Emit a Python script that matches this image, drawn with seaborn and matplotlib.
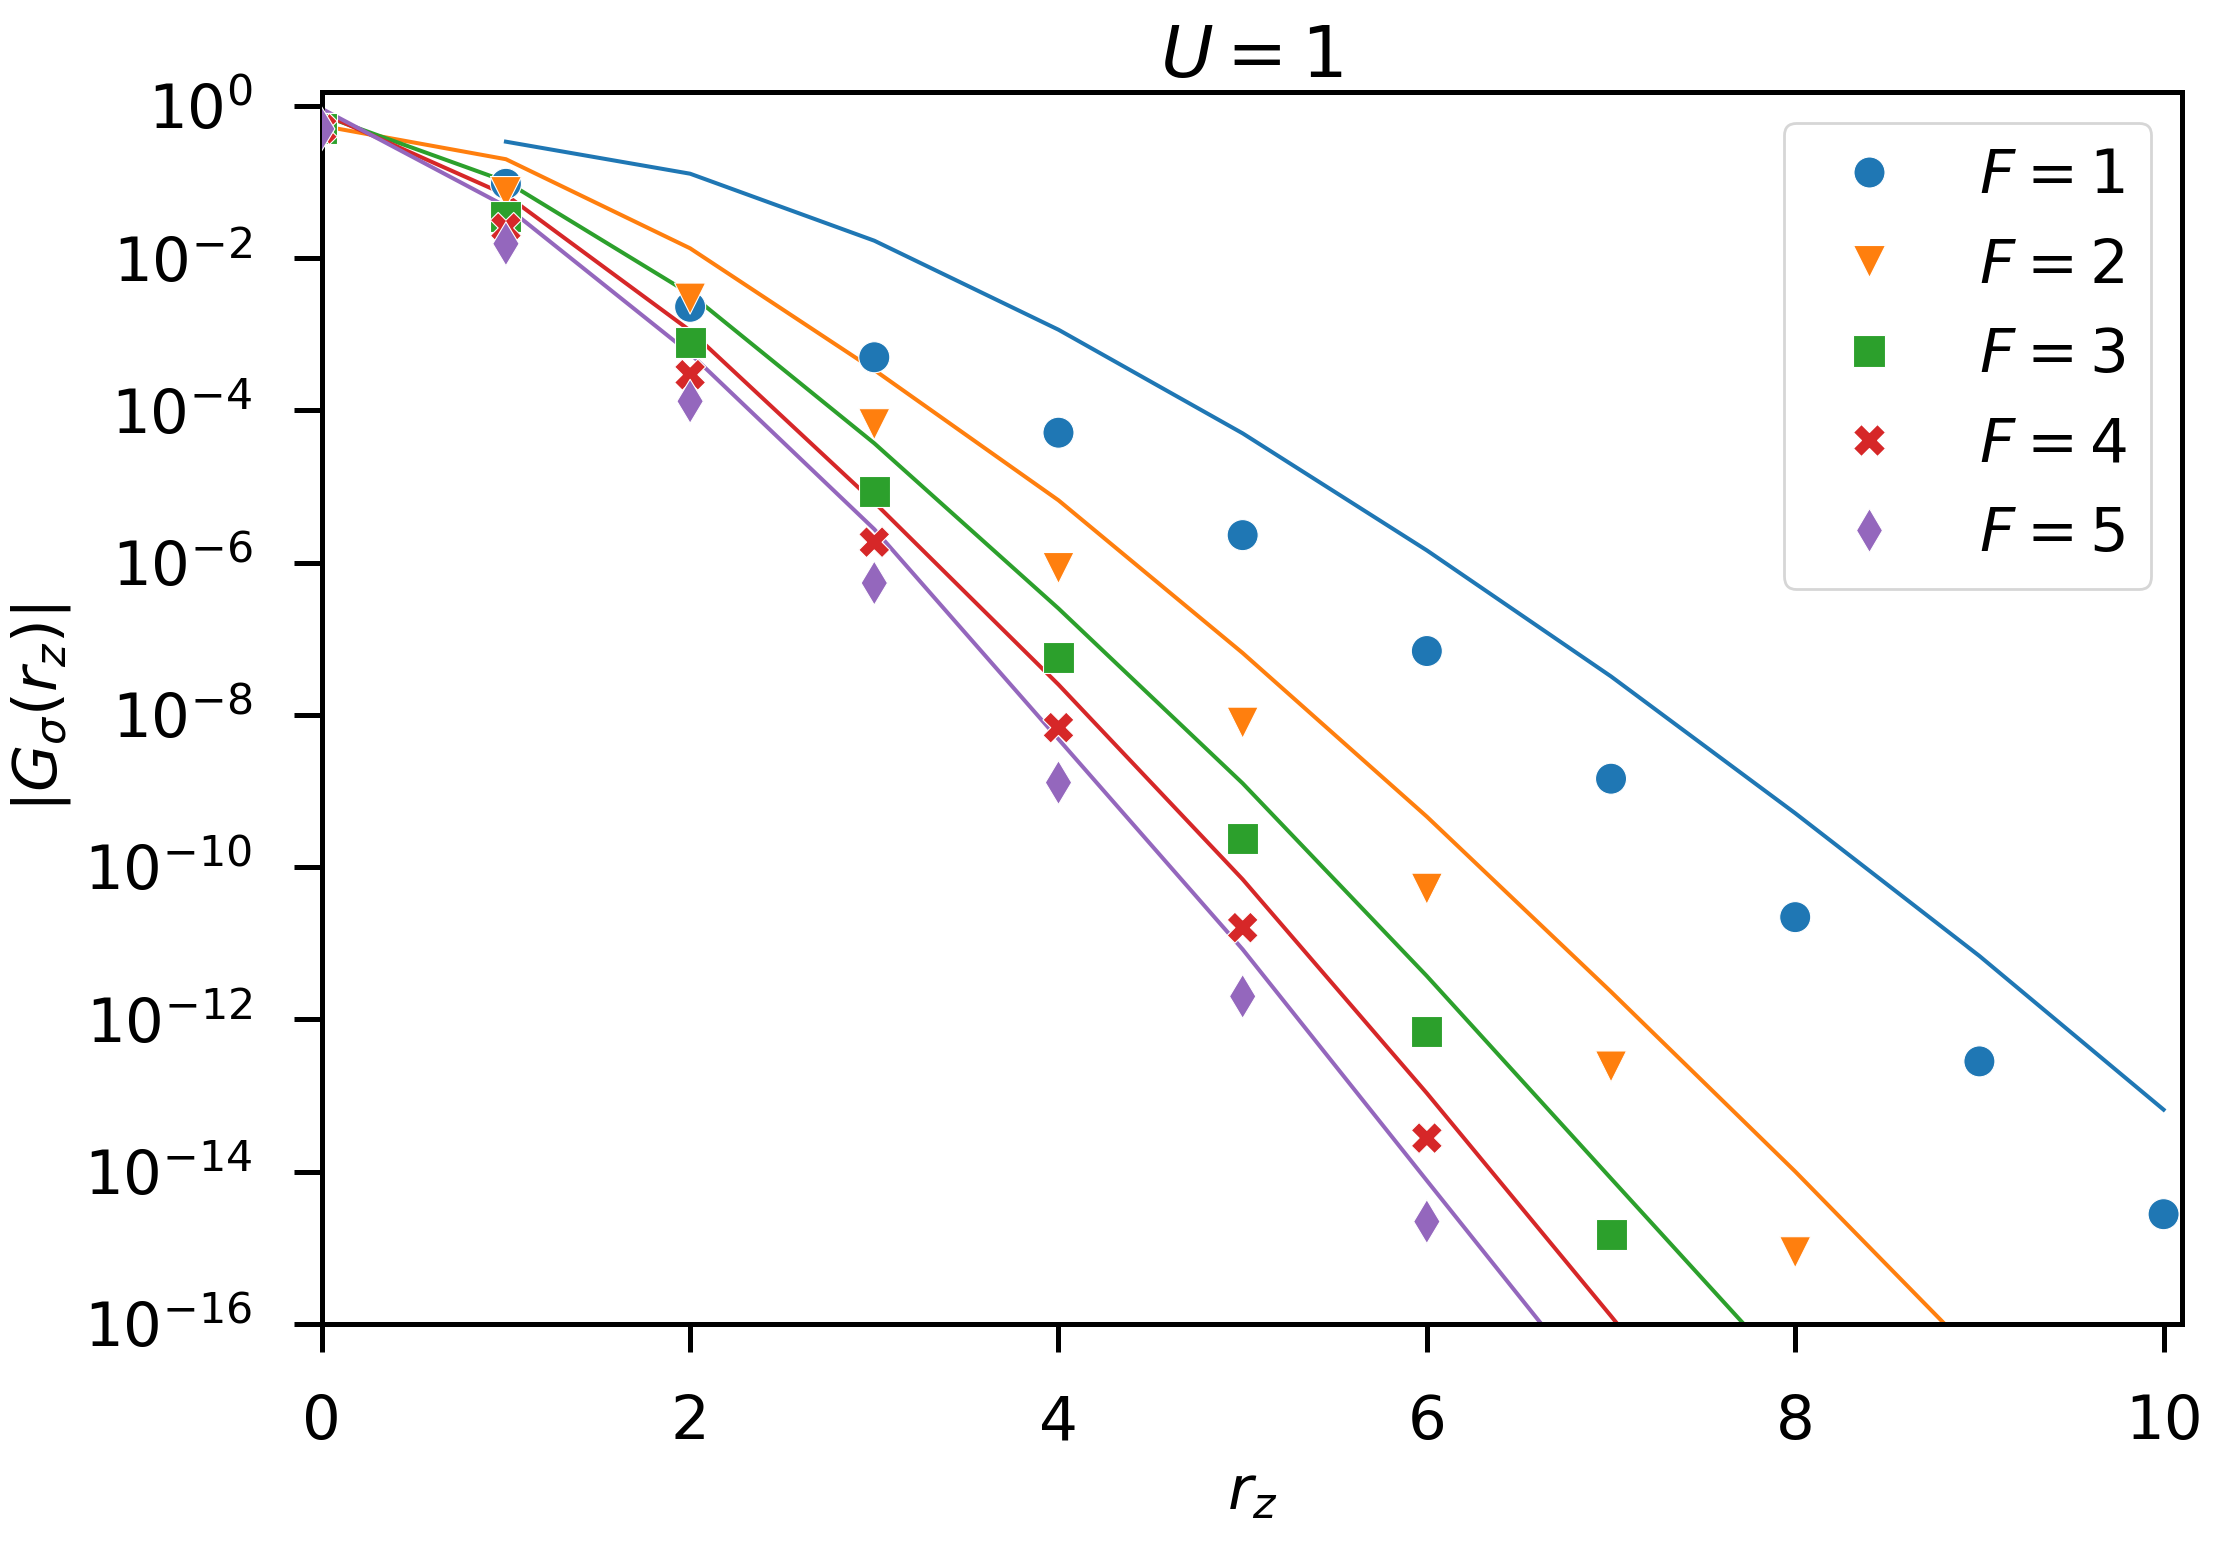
import numpy as np
import pandas as pd
import matplotlib
matplotlib.use("Agg")
import matplotlib.pyplot as plt
import seaborn as sns
from matplotlib.ticker import NullLocator


# data (U = 1)
r_z = [0, 1, 2, 3, 4, 5, 6, 7, 8, 9, 10]
labels = ["$F=1$", "$F=2$", "$F=3$", "$F=4$", "$F=5$"]
colors = ["#1f77b4", "#ff7f0e", "#2ca02c", "#d62728", "#9467bd"]
markers = ["o", "v", "s", "X", "d"]

# markers: |G| per F (nan = below the plotted range)
pts_F1 = [5.0e-1, 9.5e-2, 2.3e-3, 5.0e-4, 5.1e-5, 2.3e-6, 6.9e-8, 1.45e-9, 2.2e-11, 2.8e-13, 2.75e-15]
pts_F2 = [5.0e-1, 7.4e-2, 2.95e-3, 6.6e-5, 8.5e-7, 7.9e-9, 5.2e-11, 2.4e-13, 8.7e-16, np.nan, np.nan]
pts_F3 = [5.0e-1, 3.55e-2, 7.9e-4, 8.7e-6, 5.6e-8, 2.4e-10, 6.9e-13, 1.5e-15, np.nan, np.nan, np.nan]
pts_F4 = [5.0e-1, 2.5e-2, 2.95e-4, 1.86e-6, 6.8e-9, 1.6e-11, 2.75e-14, np.nan, np.nan, np.nan, np.nan]
pts_F5 = [5.0e-1, 1.55e-2, 1.32e-4, 5.4e-7, 1.29e-9, 2.0e-12, 2.2e-15, np.nan, np.nan, np.nan, np.nan]

# lines: |G| per F
line_F1 = [np.nan, 0.34, 0.129, 1.7e-2, 1.15e-3, 5.0e-5, 1.45e-6, 3.2e-8, 5.1e-10, 6.8e-12, 6.5e-14]
line_F2 = [0.55, 0.20, 1.35e-2, 3.4e-4, 6.6e-6, 6.5e-8, 4.6e-10, 2.3e-12, 1.0e-14, 3.4e-17, 1.0e-19]
line_F3 = [0.76, 0.102, 3.4e-3, 3.7e-5, 2.5e-7, 1.26e-9, 3.7e-12, 8.1e-15, 1.8e-17, np.nan, np.nan]
line_F4 = [0.81, 6.8e-2, 1.12e-3, 6.2e-6, 2.5e-8, 6.9e-11, 1.07e-13, 1.26e-16, 1.3e-19, np.nan, np.nan]
line_F5 = [0.92, 4.8e-2, 5.6e-4, 2.75e-6, 4.8e-9, 8.3e-12, 7.6e-15, 7.1e-18, np.nan, np.nan, np.nan]

pts_all = [pts_F1, pts_F2, pts_F3, pts_F4, pts_F5]
line_all = [line_F1, line_F2, line_F3, line_F4, line_F5]

df_pts = pd.concat([pd.DataFrame({"r_z": r_z, "G": v, "F": lab})
                    for v, lab in zip(pts_all, labels)]).dropna()
df_line = pd.concat([pd.DataFrame({"r_z": r_z, "G": v, "F": lab})
                     for v, lab in zip(line_all, labels)]).dropna()

pal = dict(zip(labels, colors))
mk = dict(zip(labels, markers))


fig, ax = plt.subplots(figsize=(11.11, 7.715), dpi=200)
fig.subplots_adjust(left=0.1448, right=0.982, bottom=0.1421, top=0.9404)
ax.set_yscale("log")

sns.lineplot(data=df_line, x="r_z", y="G", hue="F", palette=pal, lw=1.45,
             errorbar=None, legend=False, ax=ax)
sns.scatterplot(data=df_pts, x="r_z", y="G", hue="F", style="F", palette=pal,
                markers=mk, s=125, edgecolor="white", linewidth=0.4, zorder=3, ax=ax)

ax.set_xlim(0, 10.1)
ax.set_ylim(1e-16, 1.53)
ax.set_xticks([0, 2, 4, 6, 8, 10])
ax.set_yticks([10.0 ** k for k in range(0, -17, -2)])
ax.yaxis.set_minor_locator(NullLocator())

for sp in ax.spines.values():
    sp.set_linewidth(1.8)
ax.tick_params(which="major", length=10, width=1.8, pad=15, labelsize=22)

ax.set_title("$U=1$", fontsize=26, pad=5)
ax.set_xlabel("$r_z$", fontsize=22)
ax.set_ylabel(r"$|G_\sigma(r_z)|$", fontsize=22)

sns.move_legend(ax, "upper right", title=None, fontsize=22)

plt.savefig("out.png", dpi=200)
plt.close()
print("Saved: out.png")
